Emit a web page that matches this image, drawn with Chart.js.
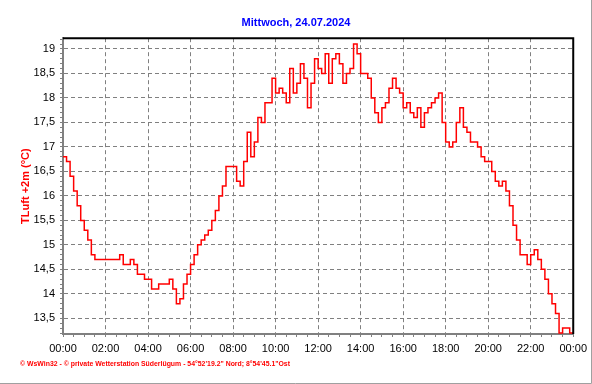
<!DOCTYPE html>
<html>
<head>
<meta charset="utf-8">
<title>Mittwoch, 24.07.2024</title>
<script src="https://cdn.jsdelivr.net/npm/chart.js@4/dist/chart.umd.min.js"></script>
<style>
    html, body { margin: 0; padding: 0; background: #fff; }
    #wrap { width: 592px; height: 384px; position: relative; }
</style>
</head>
<body>
<div id="wrap"><canvas id="tempChart"></canvas></div>
<script>
// Zeitachse, 10-Minuten-Werte
const times = [
    '00:00','00:10','00:20','00:30','00:40','00:50','01:00','01:10','01:20','01:30','01:40','01:50',
    '02:00','02:10','02:20','02:30','02:40','02:50','03:00','03:10','03:20','03:30','03:40','03:50',
    '04:00','04:10','04:20','04:30','04:40','04:50','05:00','05:10','05:20','05:30','05:40','05:50',
    '06:00','06:10','06:20','06:30','06:40','06:50','07:00','07:10','07:20','07:30','07:40','07:50',
    '08:00','08:10','08:20','08:30','08:40','08:50','09:00','09:10','09:20','09:30','09:40','09:50',
    '10:00','10:10','10:20','10:30','10:40','10:50','11:00','11:10','11:20','11:30','11:40','11:50',
    '12:00','12:10','12:20','12:30','12:40','12:50','13:00','13:10','13:20','13:30','13:40','13:50',
    '14:00','14:10','14:20','14:30','14:40','14:50','15:00','15:10','15:20','15:30','15:40','15:50',
    '16:00','16:10','16:20','16:30','16:40','16:50','17:00','17:10','17:20','17:30','17:40','17:50',
    '18:00','18:10','18:20','18:30','18:40','18:50','19:00','19:10','19:20','19:30','19:40','19:50',
    '20:00','20:10','20:20','20:30','20:40','20:50','21:00','21:10','21:20','21:30','21:40','21:50',
    '22:00','22:10','22:20','22:30','22:40','22:50','23:00','23:10','23:20','23:30','23:40','23:50',
    '00:00'
];

// Lufttemperatur +2m in °C
const temps = [
    16.8, 16.7, 16.4, 16.1, 15.8, 15.5, 15.3, 15.1, 14.8, 14.7, 14.7, 14.7,
    14.7, 14.7, 14.7, 14.7, 14.8, 14.6, 14.6, 14.7, 14.6, 14.4, 14.4, 14.3,
    14.3, 14.1, 14.1, 14.2, 14.2, 14.2, 14.3, 14.1, 13.8, 13.9, 14.2, 14.4,
    14.6, 14.8, 15.0, 15.1, 15.2, 15.3, 15.5, 15.7, 16.0, 16.2, 16.6, 16.6,
    16.6, 16.3, 16.2, 16.7, 17.3, 16.8, 17.1, 17.6, 17.5, 17.9, 17.9, 18.4,
    18.1, 18.2, 18.1, 17.9, 18.6, 18.1, 18.3, 18.7, 18.4, 17.8, 18.3, 18.8,
    18.6, 18.5, 18.9, 18.3, 18.8, 18.9, 18.7, 18.3, 18.5, 18.6, 19.1, 18.9,
    18.5, 18.5, 18.4, 18.0, 17.7, 17.5, 17.8, 17.9, 18.2, 18.4, 18.2, 18.1,
    17.8, 17.9, 17.7, 17.6, 17.8, 17.4, 17.7, 17.8, 17.9, 18.0, 18.1, 17.5,
    17.1, 17.0, 17.1, 17.5, 17.8, 17.4, 17.3, 17.1, 17.1, 17.0, 16.8, 16.7,
    16.7, 16.5, 16.3, 16.2, 16.3, 16.1, 15.8, 15.4, 15.1, 14.8, 14.8, 14.6,
    14.8, 14.9, 14.7, 14.5, 14.3, 14.0, 13.8, 13.6, 13.2, 13.3, 13.3, 13.2,
    13.2
];

// beschriftete Werte der y-Achse
const yTickValues = [13.5, 14, 14.5, 15, 15.5, 16, 16.5, 17, 17.5, 18, 18.5, 19];

const titleText = 'Mittwoch, 24.07.2024';
const yTitleText = 'TLuft +2m (°C)';
const footerText = '© WsWin32 - © private Wetterstation Süderlügum - 54°52\'19.2" Nord; 8°54\'45.1"Ost';

const GRID = '#808080';

function isMajorY(v) {
    return yTickValues.some(t => Math.abs(t - v) < 1e-6);
}

const framePlugin = {
    id: 'frame',
    afterDraw(chart) {
        const { ctx, chartArea } = chart;
        ctx.save();
        // schwarzer Rahmen oben und rechts
        ctx.strokeStyle = '#000';
        ctx.lineWidth = 2;
        ctx.beginPath();
        ctx.moveTo(chartArea.left, chartArea.top);
        ctx.lineTo(chartArea.right, chartArea.top);
        ctx.lineTo(chartArea.right, chartArea.bottom);
        ctx.stroke();

        // Bildrahmen
        ctx.strokeStyle = '#a0a0a0';
        ctx.lineWidth = 1;
        ctx.beginPath();
        ctx.moveTo(chart.width - 0.5, 0);
        ctx.lineTo(chart.width - 0.5, chart.height - 0.5);
        ctx.lineTo(0, chart.height - 0.5);
        ctx.stroke();

        // Fusszeile
        ctx.fillStyle = '#ff0000';
        ctx.font = 'bold 8px "Liberation Sans", Arial, sans-serif';
        ctx.textBaseline = 'middle';
        ctx.textAlign = 'left';
        ctx.fillText(footerText, 20, 364, 270);
        ctx.restore();
    }
};

Chart.defaults.font.family = '"Liberation Sans", Arial, sans-serif';

const ctx = document.getElementById('tempChart');
new Chart(ctx, {
    type: 'line',
    data: {
        labels: times,
        datasets: [{
            label: yTitleText,
            data: temps,
            borderColor: '#ff0000',
            borderWidth: 1.5,
            stepped: true,
            pointRadius: 0,
            fill: false
        }]
    },
    options: {
        responsive: true,
        maintainAspectRatio: false,
        animation: false,
        layout: {
            padding: { left: 18, right: 18, top: 0, bottom: 0 }
        },
        plugins: {
            legend: { display: false },
            tooltip: { enabled: false },
            title: {
                display: true,
                text: titleText,
                color: '#0000ff',
                font: { size: 11, weight: 'bold' },
                padding: { top: 16, bottom: 9 }
            }
        },
        scales: {
            x: {
                type: 'category',
                offset: false,
                afterFit: (s) => { s.height = 50; },
                border: { display: true, color: GRID, width: 2, dash: [4, 3] },
                grid: {
                    color: (c) => (c.index % 12 === 0 ? GRID : 'rgba(0,0,0,0)'),
                    tickColor: (c) => (c.index % 3 === 0 ? GRID : 'rgba(0,0,0,0)'),
                    tickLength: 3,
                    tickBorderDash: [],
                    lineWidth: 1
                },
                ticks: {
                    autoSkip: false,
                    maxRotation: 0,
                    minRotation: 0,
                    padding: 5,
                    color: '#000',
                    font: { size: 11 },
                    callback: function (value, index) {
                        return index % 12 === 0 ? this.getLabelForValue(value) : '';
                    }
                }
            },
            y: {
                min: 13.18,
                max: 19.22,
                afterFit: (s) => { s.width = 45; },
                border: { display: true, color: GRID, width: 2, dash: [4, 3] },
                grid: {
                    color: (c) => (c.tick && isMajorY(c.tick.value) ? GRID : 'rgba(0,0,0,0)'),
                    tickColor: GRID,
                    tickLength: 3,
                    tickBorderDash: [],
                    lineWidth: 1
                },
                ticks: {
                    stepSize: 0.1,
                    includeBounds: false,
                    autoSkip: false,
                    padding: 5,
                    color: '#000',
                    font: { size: 11 },
                    callback: (v) => (isMajorY(v) ? String(Math.round(v * 10) / 10).replace('.', ',') : '')
                },
                title: {
                    display: true,
                    text: yTitleText,
                    color: '#ff0000',
                    font: { size: 11, weight: 'bold' },
                    padding: { top: 1, bottom: 0 }
                }
            }
        }
    },
    plugins: [framePlugin]
});
</script>
</body>
</html>
